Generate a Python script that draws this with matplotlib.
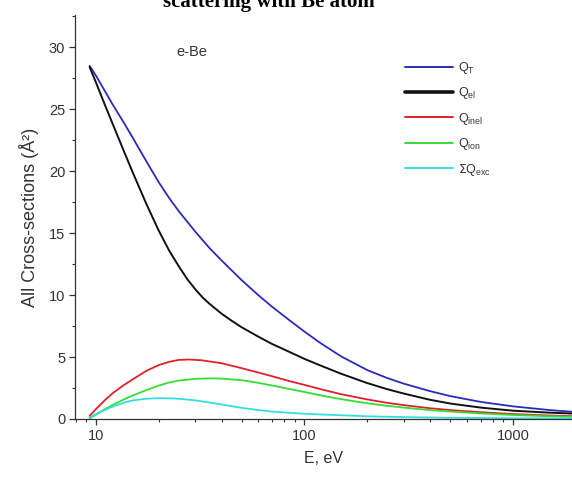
import matplotlib

matplotlib.use("Agg")
import matplotlib.pyplot as plt
from matplotlib.ticker import FixedLocator, LogLocator, NullFormatter

# electron-Be cross sections (A^2) vs incident energy (eV)
energy_t = [9.32, 10, 11, 12, 13.5, 15, 17.5, 20, 22.5, 25, 30, 35, 40, 50, 60, 70, 85, 100, 120, 150,
            200, 250, 300, 400, 500, 700, 1000, 1500, 2000]
q_total = [28.5, 27.7, 26.5, 25.4, 24.0, 22.7, 20.75, 19.1, 17.8, 16.75, 15.1, 13.8, 12.8, 11.2, 10.0, 9.05,
           7.95, 7.05, 6.1, 5.05, 3.95, 3.3, 2.85, 2.25, 1.85, 1.38, 1.02, 0.72, 0.56]

energy_el = [9.32, 10, 11, 12, 13.5, 15, 17.5, 20, 22.5, 25, 27.5, 30, 32.5, 35, 40, 45, 50, 60, 70, 85,
             100, 120, 150, 200, 250, 300, 400, 500, 700, 1000, 1500, 2000]
q_elastic = [28.4, 27.15, 25.4, 23.85, 21.75, 19.9, 17.3, 15.2, 13.55, 12.3, 11.25, 10.45, 9.8, 9.3, 8.5,
             7.9, 7.4, 6.65, 6.05, 5.4, 4.85, 4.3, 3.65, 2.9, 2.4, 2.05, 1.55, 1.25, 0.92, 0.67, 0.51, 0.43]

energy_inel = [9.32, 10, 11, 12, 13.5, 15, 17.5, 20, 22.5, 25, 28, 32, 40, 50, 60, 70, 85, 100, 120, 150,
               200, 250, 300, 400, 500, 700, 1000, 1500, 2000]
q_inel = [0.25, 0.8, 1.5, 2.07, 2.7, 3.2, 3.9, 4.35, 4.62, 4.77, 4.8, 4.74, 4.5, 4.1, 3.75, 3.45, 3.05,
          2.75, 2.4, 2.0, 1.58, 1.3, 1.12, 0.87, 0.72, 0.55, 0.4, 0.28, 0.22]

energy_ion = [9.32, 10, 11, 12, 13.5, 15, 17.5, 20, 22.5, 25, 30, 35, 40, 50, 60, 70, 85, 100, 120, 150,
              200, 250, 300, 400, 500, 700, 1000, 1500, 2000]
q_ion = [0.05, 0.35, 0.78, 1.13, 1.55, 1.9, 2.34, 2.7, 2.95, 3.1, 3.24, 3.28, 3.26, 3.13, 2.92, 2.7,
         2.42, 2.18, 1.9, 1.6, 1.27, 1.06, 0.92, 0.72, 0.6, 0.45, 0.32, 0.22, 0.17]

energy_exc = [9.32, 10, 11, 12, 13.5, 15, 17.5, 20, 23.5, 27, 30, 35, 40, 50, 60, 70, 85, 100, 150, 200,
              300, 500, 1000, 2000]
q_exc = [0.1, 0.4, 0.72, 0.99, 1.3, 1.5, 1.64, 1.68, 1.66, 1.58, 1.5, 1.33, 1.17, 0.9, 0.72, 0.6, 0.5,
         0.42, 0.3, 0.22, 0.15, 0.1, 0.06, 0.04]

series = [
    (energy_t, q_total, "#2b2bb8", 1.3, r"Q$_\mathregular{T}$"),
    (energy_el, q_elastic, "#111111", 1.4, r"Q$_\mathregular{el}$"),
    (energy_inel, q_inel, "#e0202c", 1.3, r"Q$_\mathregular{inel}$"),
    (energy_ion, q_ion, "#35dd35", 1.3, r"Q$_\mathregular{ion}$"),
    (energy_exc, q_exc, "#35dede", 1.3, r"$\Sigma$Q$_\mathregular{exc}$"),
]

plt.rcParams.update(
    {
        "font.family": ["Liberation Sans", "DejaVu Sans"],
        "font.size": 10,
        "text.color": "#333333",
        "axes.labelcolor": "#333333",
        "xtick.color": "#333333",
        "ytick.color": "#333333",
        "axes.edgecolor": "#333333",
    }
)

fig = plt.figure(figsize=(5.72, 4.78), dpi=100)
ax = fig.add_axes([75 / 572, 59 / 478, 1 - 75 / 572, (419 - 15) / 478])

for xs, ys, color, lw, label in series:
    ax.plot(xs, ys, color=color, lw=lw, label=label, solid_capstyle="round", solid_joinstyle="round")

ax.set_xscale("log")
ax.set_xlim(7.93, 1920)
ax.set_ylim(0, 32.6)
ax.set_yticks([0, 5, 10, 15, 20, 25, 30])
ax.yaxis.set_minor_locator(FixedLocator([2.5, 7.5, 12.5, 17.5, 22.5, 27.5, 32.5]))
ax.xaxis.set_major_locator(FixedLocator([10, 100, 1000]))
ax.set_xticklabels(["10", "100", "1000"])
ax.xaxis.set_minor_locator(LogLocator(base=10, subs=range(2, 10)))
ax.xaxis.set_minor_formatter(NullFormatter())
ax.tick_params(which="major", direction="out", length=4, width=0.9, labelsize=10.5, pad=3)
ax.tick_params(which="minor", direction="out", length=2.5, width=0.8)
ax.spines[["top", "right"]].set_visible(False)
ax.spines[["left", "bottom"]].set_linewidth(0.9)

ax.set_xlabel("E, eV", fontsize=11.5, labelpad=6)
ax.set_ylabel("All Cross-sections (Å²)", fontsize=13, labelpad=7)

ax.text(0.235, 0.908, "e-Be", transform=ax.transAxes, fontsize=10.5, ha="center", va="center")

leg = ax.legend(
    loc="upper left",
    bbox_to_anchor=(405 / 572, 1 - 60 / 478),
    bbox_transform=fig.transFigure,
    frameon=False,
    fontsize=9,
    handlelength=3.8,
    handletextpad=0.45,
    labelspacing=0.75,
    borderpad=0,
    borderaxespad=0,
)
for line in leg.get_lines():
    line.set_linewidth(1.4)
leg.get_lines()[1].set_linewidth(2.6)

# heading sits partly above the canvas edge
fig.text(
    269 / 572,
    1 - 7 / 478,
    "scattering with Be atom",
    ha="center",
    va="baseline",
    fontsize=15,
    fontweight="bold",
    family=["Liberation Serif", "DejaVu Serif"],
    color="black",
)

fig.savefig("out.png", dpi=100)
